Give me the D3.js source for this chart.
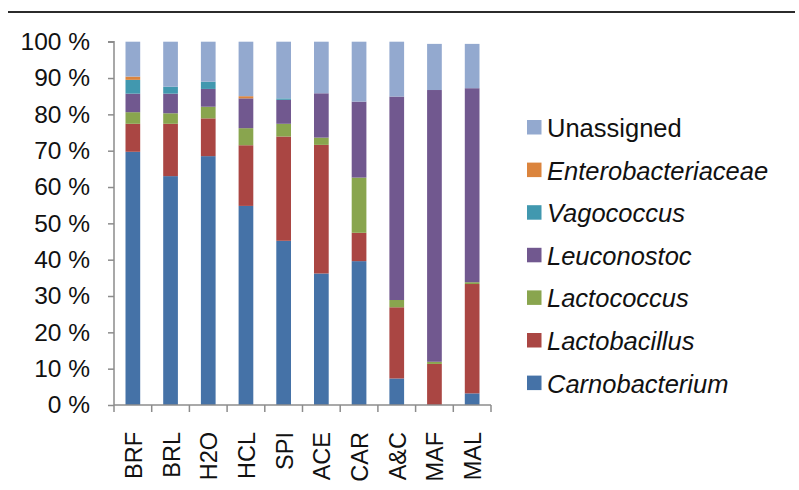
<!DOCTYPE html>
<html>
<head>
<meta charset="utf-8">
<script src="https://cdn.jsdelivr.net/npm/d3@7"></script>
<style>
  html, body { margin: 0; padding: 0; background: #fff; }
  svg { display: block; font-family: "Liberation Sans", Arial, sans-serif; }
</style>
</head>
<body>
<svg id="chart" width="799" height="490"></svg>
<script>
const categories = ["BRF","BRL","H2O","HCL","SPI","ACE","CAR","A&C","MAF","MAL"];
const carnobacterium = [69.7, 63.0, 68.5, 54.8, 45.2, 36.2, 39.6, 7.3, 0, 3.2];
const lactobacillus = [7.7, 14.4, 10.4, 16.7, 28.7, 35.4, 7.8, 19.6, 11.3, 30.1];
const lactococcus = [3.2, 2.9, 3.2, 4.7, 3.5, 2.0, 15.2, 2.0, 0.6, 0.5];
const leuconostoc = [5.1, 5.4, 4.9, 8.2, 6.6, 12.2, 20.9, 56.0, 74.8, 53.4];
const vagococcus = [3.8, 1.9, 2.0, 0, 0.4, 0, 0, 0, 0, 0];
const enterobacteriaceae = [0.9, 0, 0, 0.6, 0, 0, 0, 0, 0, 0];
const unassigned = [9.6, 12.4, 11.0, 15.0, 15.6, 14.2, 16.5, 15.1, 12.7, 12.2];
const seriesNames = ["Carnobacterium","Lactobacillus","Lactococcus","Leuconostoc","Vagococcus","Enterobacteriaceae","Unassigned"];
const seriesValues = [carnobacterium, lactobacillus, lactococcus, leuconostoc, vagococcus, enterobacteriaceae, unassigned];
const colors = ["#4572A7","#AA4643","#89A54E","#71588F","#4198AF","#DB843D","#93A9CF"];
const yTicks = [0,10,20,30,40,50,60,70,80,90,100];

const svg = d3.select("#chart");

// top rule
svg.append("line").attr("x1", 8).attr("x2", 795).attr("y1", 12).attr("y2", 12)
  .attr("stroke", "#2b2b2b").attr("stroke-width", 2);

const x = d3.scaleBand().domain(categories).range([114, 491]).padding(0);
const y = d3.scaleLinear().domain([0, 100]).range([405, 41.7]);

const table = categories.map((c, i) => {
  const row = { cat: c };
  seriesNames.forEach((s, j) => row[s] = seriesValues[j][i]);
  return row;
});
const stacked = d3.stack().keys(seriesNames)(table);

const barW = x.bandwidth() * 0.39;
svg.append("g").selectAll("g").data(stacked).join("g")
  .attr("fill", (d, i) => colors[i])
  .selectAll("rect").data(d => d.filter(p => p[1] - p[0] > 0)).join("rect")
  .attr("x", d => x(d.data.cat) + (x.bandwidth() - barW) / 2)
  .attr("width", barW)
  .attr("y", d => y(d[1]))
  .attr("height", d => y(d[0]) - y(d[1]));

// y axis
const yAxis = d3.axisLeft(y).tickValues(yTicks).tickFormat(d => d + " %").tickSize(6).tickPadding(18);
const gy = svg.append("g").attr("transform", "translate(114,0)").call(yAxis);
gy.select(".domain").attr("stroke", "#8c8c8c").attr("stroke-width", 1.5).attr("d", `M-6,${y(100)}H0V${y(0)}`);
gy.selectAll(".tick line").attr("stroke", "#8c8c8c").attr("stroke-width", 1.5);
gy.selectAll(".tick text").attr("font-size", 24.5).attr("fill", "#111")
  .attr("font-family", "'Liberation Sans', Arial, sans-serif");

// x axis
const gx = svg.append("g").attr("transform", "translate(0,405)");
gx.append("line").attr("x1", 114).attr("x2", 491).attr("y1", 0).attr("y2", 0)
  .attr("stroke", "#8c8c8c").attr("stroke-width", 1.5);
const bounds = categories.map(c => x(c)).concat([x.range()[1]]);
gx.selectAll("line.t").data(bounds).join("line").attr("class", "t")
  .attr("x1", d => d).attr("x2", d => d).attr("y1", 0).attr("y2", 7)
  .attr("stroke", "#8c8c8c").attr("stroke-width", 1.5);
gx.selectAll("text").data(categories).join("text")
  .attr("transform", d => `translate(${x(d) + x.bandwidth() / 2 + 1},27) rotate(-90)`)
  .attr("text-anchor", "end").attr("dominant-baseline", "central")
  .attr("font-size", 23.5).attr("fill", "#111").text(d => d);

// legend
const legendOrder = seriesNames.map((s, i) => i).reverse();
const lg = svg.append("g");
legendOrder.forEach((si, k) => {
  const cy = 127.5 + k * 42.6;
  lg.append("rect").attr("x", 527).attr("y", cy - 7.5).attr("width", 14.5).attr("height", 14.5).attr("fill", colors[si]);
  lg.append("text").attr("x", 547).attr("y", cy + 0.5).attr("dominant-baseline", "central")
    .attr("font-size", 25.5).attr("fill", "#111")
    .attr("font-style", seriesNames[si] === "Unassigned" ? "normal" : "italic")
    .text(seriesNames[si]);
});
</script>
</body>
</html>
